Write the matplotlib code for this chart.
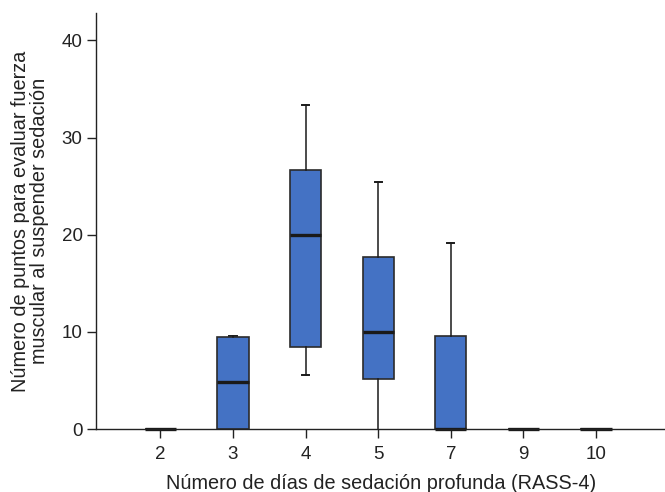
import matplotlib
matplotlib.use("Agg")
import matplotlib.pyplot as plt

plt.rcParams['font.family'] = ['Liberation Sans', 'DejaVu Sans']

# Days of deep sedation (categories) and box statistics per group
days = ["2", "3", "4", "5", "7", "9", "10"]
whisker_low = [0, 0, 5.6, 0, 0, 0, 0]
q1 = [0, 0, 8.4, 5.2, 0, 0, 0]
median = [0, 4.8, 20.0, 10.0, 0, 0, 0]
q3 = [0, 9.5, 26.7, 17.7, 9.6, 0, 0]
whisker_high = [0, 9.6, 33.4, 25.4, 19.2, 0, 0]

stats = []
for lbl, wl, a, m, b, wh in zip(days, whisker_low, q1, median, q3, whisker_high):
    stats.append(dict(label=lbl, whislo=wl, q1=a, med=m, q3=b, whishi=wh, fliers=[]))

fig = plt.figure(figsize=(6.65, 4.92), dpi=100)
ax = fig.add_axes([0.145, 0.128, 0.855, 0.845])

parts = ax.bxp(stats, positions=range(len(days)), widths=0.43, patch_artist=True,
               showfliers=False,
               boxprops=dict(facecolor="#4472C4", edgecolor="#2b2b2b", linewidth=1.2),
               medianprops=dict(color="#1a1a1a", linewidth=2.4),
               whiskerprops=dict(color="#1a1a1a", linewidth=1.1),
               capprops=dict(color="#1a1a1a", linewidth=1.4),
               capwidths=0.1)
for key in ("boxes", "medians", "whiskers"):
    for artist in parts[key]:
        artist.set_clip_on(False)
        artist.set_zorder(3)
# lower caps sitting on the baseline are hidden by the axis line
for i, wl in enumerate(whisker_low):
    if wl == 0:
        parts["caps"][2 * i].set_visible(False)
    if whisker_high[i] == 0:
        parts["caps"][2 * i + 1].set_visible(False)

ax.set_xlim(-0.88, 6.95)
ax.set_ylim(0, 42.8)
ax.set_yticks([0, 10, 20, 30, 40])
ax.spines['top'].set_visible(False)
ax.spines['right'].set_visible(False)
for s in ('left', 'bottom'):
    ax.spines[s].set_color('#222222')
    ax.spines[s].set_linewidth(1.0)
    ax.spines[s].set_zorder(4)
ax.tick_params(axis='both', labelsize=13.5, length=6.5, width=1.0, color='#222222', labelcolor='#222222')
ax.tick_params(axis='x', pad=6)
ax.set_xlabel("Número de días de sedación profunda (RASS-4)", fontsize=14.3, color='#222222', labelpad=8)
ax.set_ylabel("Número de puntos para evaluar fuerza\nmuscular al suspender sedación",
              fontsize=14.3, color='#222222', labelpad=9, linespacing=1.0)

fig.savefig("out.png", dpi=100)
